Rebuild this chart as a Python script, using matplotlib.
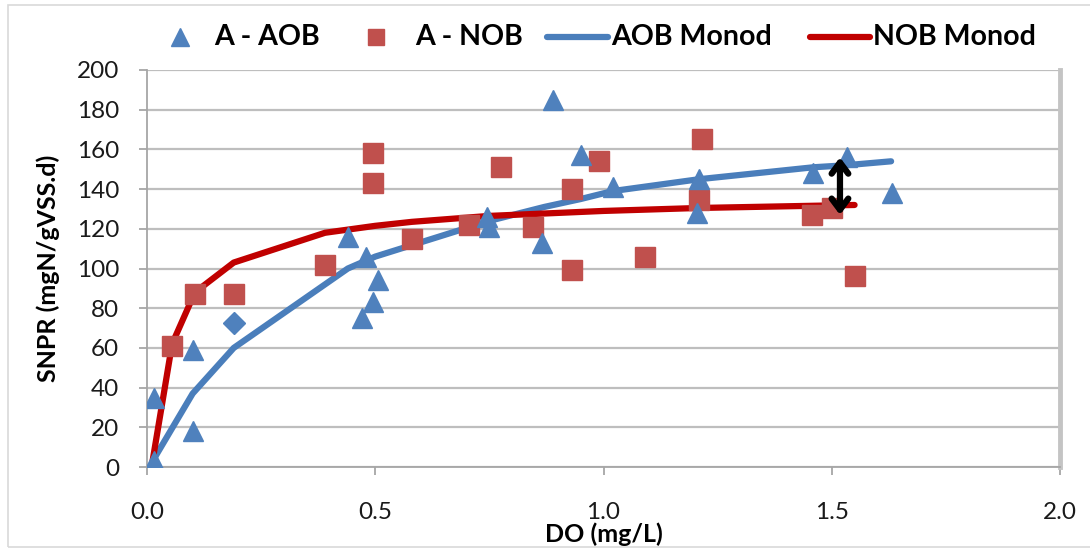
import matplotlib
matplotlib.use("Agg")
import matplotlib.pyplot as plt
from matplotlib.lines import Line2D
from matplotlib.patches import Rectangle

# ---- data ----
aob_do = [0.015, 0.015, 0.10, 0.10, 0.44, 0.47, 0.48, 0.495, 0.505, 0.745, 0.75,
          0.865, 0.89, 0.95, 1.02, 1.205, 1.21, 1.458, 1.533, 1.632]
aob_snpr = [3, 35, 59, 18, 116, 75, 106, 83, 94, 126, 121,
            113, 185, 157, 141, 128, 145, 148, 156, 138]

aob_extra_do = [0.19]
aob_extra_snpr = [72.5]

nob_do = [0.055, 0.105, 0.19, 0.39, 0.495, 0.495, 0.58, 0.705, 0.775, 0.845,
          0.93, 0.93, 0.99, 1.09, 1.21, 1.215, 1.457, 1.50, 1.55]
nob_snpr = [61, 87, 87, 102, 158, 143, 115, 122, 151, 121,
            99, 140, 154, 106, 134.5, 165, 127, 130.6, 96]

aob_monod_do = [0.015, 0.10, 0.19, 0.44, 0.50, 0.75, 0.87, 0.95, 1.02, 1.21, 1.46, 1.53, 1.63]
aob_monod_snpr = [4, 37, 60, 100, 106, 124, 131, 135, 139, 145, 151, 152, 154]

nob_monod_do = [0.01, 0.055, 0.105, 0.19, 0.39, 0.50, 0.58, 0.75, 1.00, 1.21, 1.55]
nob_monod_snpr = [0, 62, 88, 103, 118, 121.5, 123.5, 126.5, 129, 130.5, 132]

arrow_do = 1.518
arrow_span = (156, 127)

xticks = [0.0, 0.5, 1.0, 1.5, 2.0]
yticks = list(range(0, 201, 20))
legend_labels = ["A - AOB", "A - NOB", "AOB Monod", "NOB Monod"]

# ---- style ----
FONT = ["Lato", "DejaVu Sans"]
plt.rcParams["font.family"] = FONT
blue = "#4F81BD"
blue_line = "#4A7EBB"
red_sq = "#C0504D"
red_line = "#C00000"
grid_c = "#BEBEBE"
axis_c = "#A6A6A6"

W, H = 1090, 555
fig = plt.figure(figsize=(W / 100, H / 100), dpi=100)
ax = fig.add_axes([147 / W, 1 - 467 / H, (1060 - 147) / W, (467 - 70) / H])

# outer chart border (partially visible)
fig.add_artist(Rectangle((8 / W, 1 - 547 / H), 1.2, (547 - 5) / H,
                         transform=fig.transFigure, fill=False,
                         edgecolor="#D9D9D9", lw=1.2))

ax.set_xlim(0, 2.0)
ax.set_ylim(0, 200)
ax.set_xticks(xticks)
ax.set_xticklabels([f"{t:.1f}" for t in xticks])
ax.set_yticks(yticks)
ax.yaxis.grid(True, color=grid_c, lw=1.6)
ax.set_axisbelow(True)

ax.spines["top"].set_visible(False)
ax.spines["left"].set_color(axis_c)
ax.spines["left"].set_linewidth(1.3)
ax.spines["bottom"].set_color(axis_c)
ax.spines["bottom"].set_linewidth(1.3)
ax.spines["right"].set_color("#C4C4C4")
ax.spines["right"].set_linewidth(3.5)

ax.tick_params(axis="both", direction="out", color=axis_c, length=6, width=1.3,
               labelsize=17.5, labelcolor="#1a1a1a")
ax.tick_params(axis="x", pad=19)
ax.tick_params(axis="y", pad=14)

ax.plot(aob_monod_do, aob_monod_snpr, color=blue_line, lw=4.5, zorder=3,
        solid_capstyle="round", solid_joinstyle="round")
ax.plot(nob_monod_do, nob_monod_snpr, color=red_line, lw=4.5, zorder=3,
        solid_capstyle="round", solid_joinstyle="round")
ax.plot(nob_do, nob_snpr, ls="none", marker="s", ms=14, color=red_sq, mec=red_sq, zorder=4)
ax.plot(aob_do, aob_snpr, ls="none", marker="^", ms=15, color=blue, mec=blue, zorder=5)
ax.plot(aob_extra_do, aob_extra_snpr, ls="none", marker="D", ms=11, color=blue, mec=blue, zorder=5)

ax.annotate("", xy=(arrow_do, arrow_span[1]), xytext=(arrow_do, arrow_span[0]),
            arrowprops=dict(arrowstyle="<->,head_length=0.8,head_width=0.6",
                            color="black", lw=4.5, shrinkA=0, shrinkB=0), zorder=6)

ax.set_ylabel("SNPR (mgN/gVSS.d)", fontsize=18, fontweight="bold", labelpad=12)
ax.set_xlabel("DO (mg/L)", fontsize=18, fontweight="bold", labelpad=0)

# ---- legend (manual layout along top) ----
ly = 1 - 37 / H
def fx(px):
    return px / W

fig.add_artist(Line2D([fx(180)], [ly], ls="none", marker="^", ms=13, color=blue,
                      mec=blue, transform=fig.transFigure))
fig.text(fx(214), ly, legend_labels[0], fontsize=20.5, fontweight="bold", va="center", ha="left")
fig.add_artist(Line2D([fx(376)], [ly], ls="none", marker="s", ms=12, color=red_sq,
                      mec=red_sq, transform=fig.transFigure))
fig.text(fx(415), ly, legend_labels[1], fontsize=20.5, fontweight="bold", va="center", ha="left")
fig.add_artist(Line2D([fx(547), fx(608)], [ly, ly], color=blue_line, lw=4.5,
                      solid_capstyle="round", transform=fig.transFigure))
fig.text(fx(611), ly, legend_labels[2], fontsize=20.5, fontweight="bold", va="center", ha="left")
fig.add_artist(Line2D([fx(810), fx(870)], [ly, ly], color=red_line, lw=4.5,
                      solid_capstyle="round", transform=fig.transFigure))
fig.text(fx(873), ly, legend_labels[3], fontsize=20.5, fontweight="bold", va="center", ha="left")

fig.savefig("out.png", dpi=100)
